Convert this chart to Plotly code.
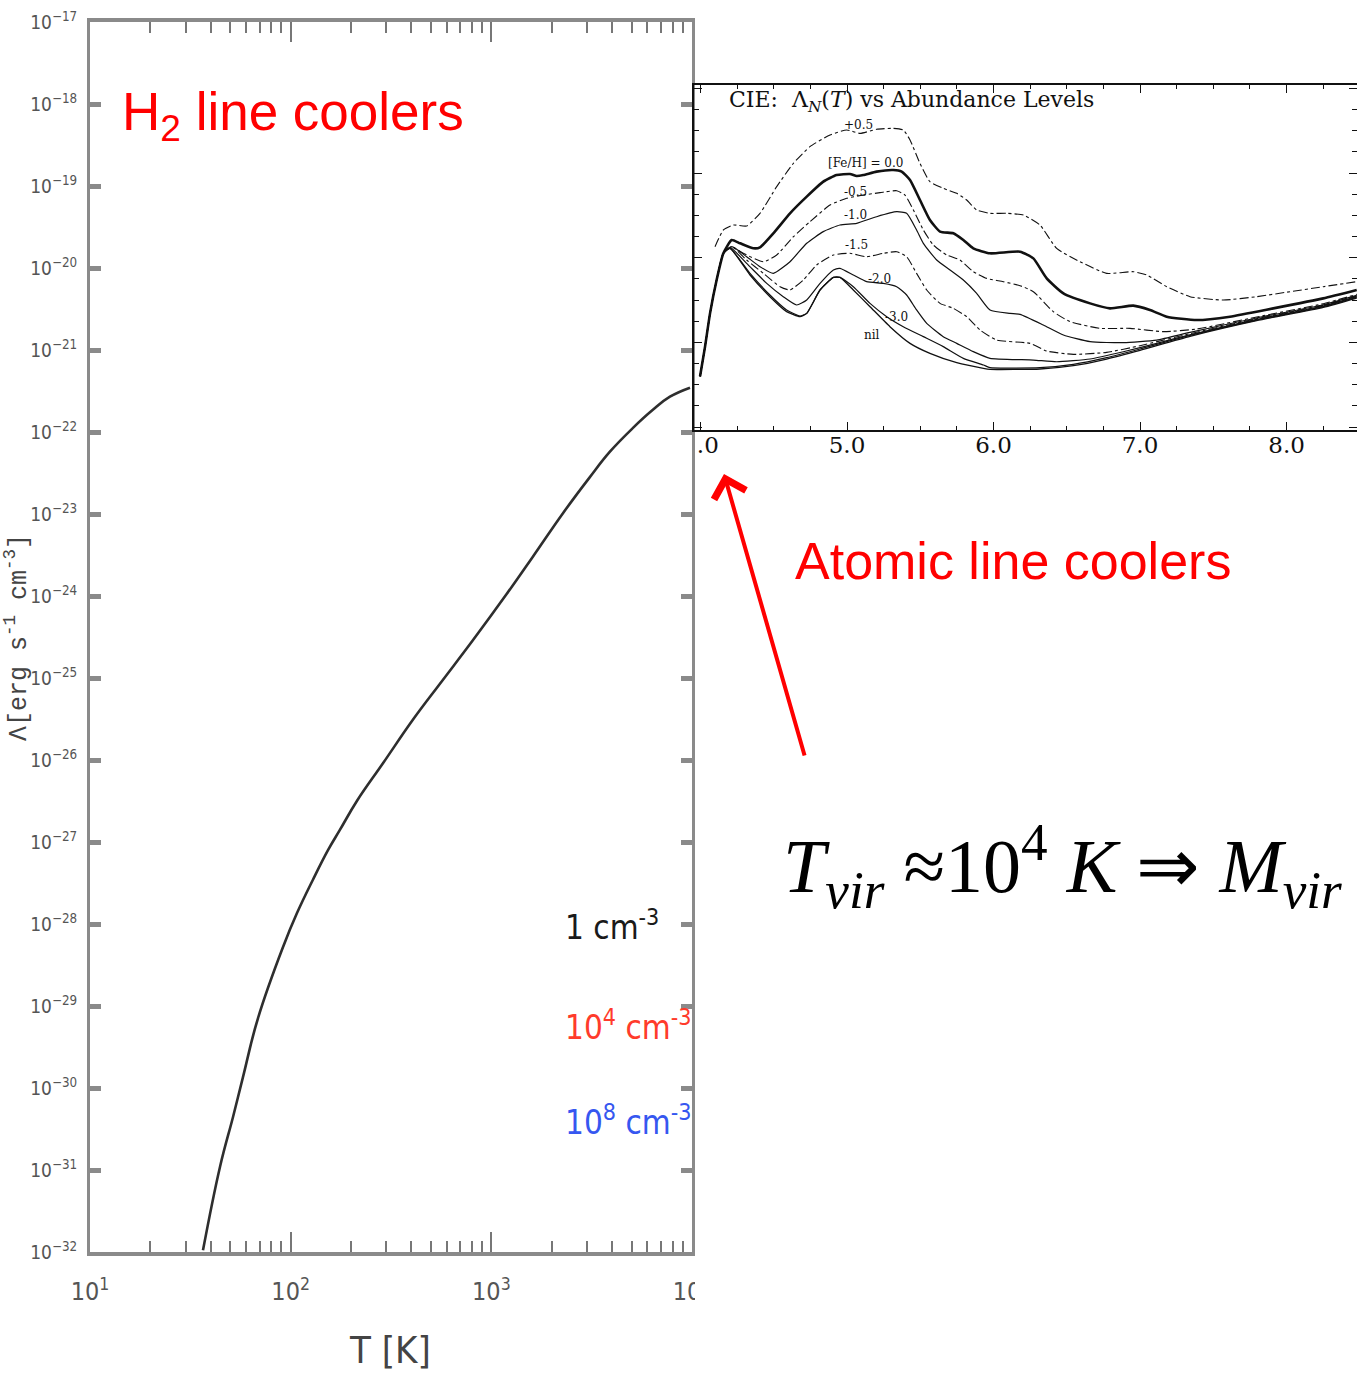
import plotly.graph_objects as go

# ---------------- main panel: H2 cooling function ----------------
h2_logT = [1.563, 1.648, 1.713, 1.762, 1.837, 1.962, 2.031, 2.111, 2.186, 2.246, 2.330,
           2.460, 2.609, 2.744, 2.908, 3.078, 3.207, 3.357, 3.491, 3.591, 3.706, 3.805, 3.890, 3.990]
h2_logL = [-31.98, -30.96, -30.35, -29.87, -29.15, -28.28, -27.87, -27.46, -27.10, -26.85, -26.50,
           -26.04, -25.51, -25.07, -24.54, -23.97, -23.52, -22.99, -22.55, -22.24, -21.95, -21.73, -21.57, -21.46]

main_x_exps = [1, 2, 3, 4]
main_y_exps = list(range(-32, -16))

# ---------------- inset: CIE cooling vs abundance ----------------
rise_T = [3.997, 4.031, 4.065, 4.110, 4.156]
rise_L = [-23.40, -23.05, -22.657, -22.263, -21.948]

p05_T = [4.099, 4.156, 4.224, 4.315, 4.406, 4.520, 4.634, 4.747, 4.884, 4.998, 5.089, 5.202, 5.316, 5.384,
         5.430, 5.498, 5.566, 5.657, 5.749, 5.817, 5.885, 5.976, 6.090, 6.204, 6.317, 6.431, 6.590, 6.772,
         6.954, 7.045, 7.182, 7.341, 7.569, 7.796, 8.024, 8.251, 8.479]
p05_L = [-21.870, -21.673, -21.614, -21.626, -21.476, -21.161, -20.886, -20.689, -20.551, -20.492, -20.532,
         -20.484, -20.473, -20.492, -20.610, -20.886, -21.102, -21.181, -21.240, -21.319, -21.437, -21.476,
         -21.476, -21.496, -21.614, -21.890, -22.047, -22.185, -22.165, -22.204, -22.342, -22.460, -22.500,
         -22.460, -22.401, -22.342, -22.283]

z00_T = rise_T + [4.213, 4.270, 4.361, 4.406, 4.497, 4.611, 4.725, 4.838, 4.929, 5.020, 5.066, 5.111, 5.202,
                  5.316, 5.373, 5.430, 5.498, 5.566, 5.635, 5.726, 5.794, 5.862, 5.976, 6.181, 6.272, 6.363,
                  6.477, 6.659, 6.795, 6.954, 7.068, 7.182, 7.387, 7.614, 7.910, 8.251, 8.479]
z00_L = rise_L + [-21.791, -21.830, -21.889, -21.878, -21.712, -21.476, -21.279, -21.102, -21.024, -21.012,
                  -21.035, -21.024, -20.984, -20.965, -20.984, -21.083, -21.319, -21.555, -21.692, -21.712,
                  -21.791, -21.889, -21.948, -21.929, -22.008, -22.244, -22.421, -22.539, -22.598, -22.566,
                  -22.617, -22.696, -22.736, -22.696, -22.598, -22.480, -22.381]

m05_T = rise_T + [4.213, 4.292, 4.429, 4.520, 4.634, 4.747, 4.884, 4.998, 5.111, 5.225, 5.339, 5.396, 5.453,
                  5.521, 5.589, 5.680, 5.771, 5.862, 5.953, 6.067, 6.181, 6.272, 6.408, 6.522, 6.727, 6.932,
                  7.159, 7.387, 7.796, 8.251, 8.479]
m05_L = rise_L + [-21.870, -21.948, -22.047, -21.968, -21.752, -21.575, -21.378, -21.299, -21.260, -21.232,
                  -21.209, -21.260, -21.437, -21.673, -21.850, -21.968, -22.027, -22.165, -22.244, -22.283,
                  -22.330, -22.401, -22.637, -22.755, -22.834, -22.834, -22.873, -22.842, -22.700, -22.543,
                  -22.433]

m10_T = rise_T + [4.213, 4.315, 4.406, 4.497, 4.611, 4.725, 4.838, 4.952, 5.066, 5.202, 5.339, 5.407, 5.475,
                  5.521, 5.612, 5.703, 5.794, 5.885, 5.976, 6.113, 6.181, 6.340, 6.477, 6.659, 6.886, 7.114,
                  7.341, 7.796, 8.251, 8.479]
m10_L = rise_L + [-21.870, -21.988, -22.106, -22.185, -22.047, -21.830, -21.692, -21.614, -21.594, -21.516,
                  -21.457, -21.476, -21.673, -21.830, -22.027, -22.145, -22.263, -22.421, -22.617, -22.657,
                  -22.669, -22.795, -22.913, -22.991, -23.003, -22.972, -22.881, -22.712, -22.555, -22.444]

m15_T = rise_T + [4.213, 4.315, 4.429, 4.543, 4.611, 4.702, 4.793, 4.907, 5.020, 5.134, 5.248, 5.339, 5.407,
                  5.475, 5.544, 5.635, 5.726, 5.817, 5.908, 6.021, 6.249, 6.363, 6.545, 6.772, 7.000, 7.341,
                  7.796, 8.251, 8.479]
m15_L = rise_L + [-21.870, -22.027, -22.185, -22.342, -22.381, -22.263, -22.086, -21.968, -21.948, -21.988,
                  -21.948, -21.929, -21.988, -22.185, -22.381, -22.539, -22.598, -22.696, -22.854, -22.972,
                  -23.011, -23.102, -23.141, -23.117, -23.039, -22.897, -22.720, -22.562, -22.452]

m20_T = rise_T + [4.201, 4.315, 4.452, 4.565, 4.656, 4.725, 4.816, 4.907, 4.952, 5.043, 5.134, 5.248, 5.339,
                  5.407, 5.475, 5.544, 5.657, 5.749, 5.862, 5.976, 6.272, 6.431, 6.659, 6.886, 7.114, 7.341,
                  7.796, 8.251, 8.479]
m20_L = rise_L + [-21.878, -22.067, -22.303, -22.460, -22.558, -22.499, -22.303, -22.145, -22.126, -22.204,
                  -22.283, -22.303, -22.342, -22.440, -22.617, -22.775, -22.932, -23.011, -23.109, -23.188,
                  -23.208, -23.228, -23.196, -23.110, -23.011, -22.909, -22.728, -22.570, -22.460]

m30_T = rise_T + [4.201, 4.338, 4.474, 4.588, 4.679, 4.725, 4.816, 4.907, 4.952, 5.043, 5.157, 5.271, 5.384,
                  5.521, 5.657, 5.794, 5.931, 5.976, 6.317, 6.545, 6.772, 7.000, 7.341, 7.796, 8.251, 8.479]
m30_L = rise_L + [-21.889, -22.185, -22.440, -22.617, -22.688, -22.657, -22.381, -22.232, -22.232, -22.342,
                  -22.539, -22.696, -22.814, -22.932, -23.050, -23.188, -23.267, -23.298, -23.298, -23.259,
                  -23.180, -23.078, -22.917, -22.736, -22.578, -22.468]

nil_T = rise_T + [4.201, 4.338, 4.474, 4.588, 4.679, 4.725, 4.816, 4.907, 4.952, 5.043, 5.157, 5.293, 5.430,
                  5.566, 5.749, 5.931, 5.976, 6.317, 6.545, 6.772, 7.000, 7.341, 7.796, 8.251, 8.479]
nil_L = rise_L + [-21.889, -22.204, -22.460, -22.637, -22.696, -22.657, -22.381, -22.232, -22.232, -22.381,
                  -22.578, -22.814, -23.011, -23.129, -23.239, -23.306, -23.318, -23.314, -23.275, -23.196,
                  -23.094, -22.928, -22.743, -22.586, -22.476]

inset_labels = ["+0.5", "[Fe/H] = 0.0", "-0.5", "-1.0", "-1.5", "-2.0", "-3.0", "nil"]
inset_label_T = [5.075, 5.123, 5.055, 5.055, 5.068, 5.225, 5.341, 5.171]
inset_label_L = [-20.433, -20.882, -21.224, -21.496, -21.850, -22.251, -22.700, -22.913]
inset_x_ticks = [4, 5, 6, 7, 8]

W, H = 1357, 1373
def px(x): return x / W
def py(y): return 1 - y / H

fig = go.Figure()

fig.add_trace(go.Scatter(
    x=[10 ** v for v in h2_logT], y=[10 ** v for v in h2_logL], mode="lines",
    line=dict(color="#2e2e2e", width=2.6, shape="spline", smoothing=1.2),
    xaxis="x", yaxis="y", showlegend=False, hoverinfo="skip"))

inset_curves = [
    (p05_T, p05_L, 1.1, "dashdot"),
    (z00_T, z00_L, 2.6, "solid"),
    (m05_T, m05_L, 1.1, "dashdot"),
    (m10_T, m10_L, 1.2, "solid"),
    (m15_T, m15_L, 1.1, "dashdot"),
    (m20_T, m20_L, 1.2, "solid"),
    (m30_T, m30_L, 1.2, "solid"),
    (nil_T, nil_L, 1.3, "solid"),
]
for tx, ly, w, d in inset_curves:
    fig.add_trace(go.Scatter(
        x=tx, y=ly, mode="lines",
        line=dict(color="#111111", width=w, dash=d, shape="spline", smoothing=0.5),
        xaxis="x2", yaxis="y2", showlegend=False, hoverinfo="skip"))

narrow = "Liberation Sans Narrow, Arial Narrow, DejaVu Sans Condensed, Roboto, sans-serif"
serif = "DejaVu Serif, Liberation Serif, serif"

minor_x = [m * 10 ** e for e in (1, 2, 3) for m in range(2, 10)]

fig.update_layout(
    width=W, height=H, margin=dict(l=0, r=0, t=0, b=0, pad=0, autoexpand=False),
    paper_bgcolor="white", plot_bgcolor="white",
    xaxis=dict(
        type="log", range=[1, 4], domain=[px(90), px(692)], anchor="y", automargin=False,
        tickvals=[10 ** e for e in main_x_exps],
        ticktext=[f"10<sup>{e}</sup>" for e in main_x_exps],
        ticks="inside", ticklen=20, tickwidth=2, tickcolor="#777",
        minor=dict(tickvals=minor_x, ticks="inside", ticklen=11, tickwidth=2, tickcolor="#777"),
        showline=True, linewidth=4, linecolor="#8a8a8a", mirror="ticks",
        showgrid=False, zeroline=False, ticklabelstandoff=14,
        tickfont=dict(family=narrow, size=25, color="#555"),
    ),
    yaxis=dict(
        type="log", range=[-32, -17], domain=[py(1252), py(22)], anchor="x", automargin=False,
        tickvals=[10.0 ** e for e in main_y_exps],
        ticktext=[f"10<sup>\u2212{-e}</sup>" for e in main_y_exps],
        ticks="inside", ticklen=11, tickwidth=5, tickcolor="#8a8a8a",
        showline=True, linewidth=3, linecolor="#8a8a8a", mirror="ticks",
        showgrid=False, zeroline=False, ticklabelstandoff=6,
        tickfont=dict(family=narrow, size=19, color="#555"),
    ),
    xaxis2=dict(
        range=[3.9556, 8.481], domain=[px(694), 1.0], anchor="y2", automargin=False,
        tickvals=inset_x_ticks,
        ticktext=["<span style='color:rgba(0,0,0,0)'>4</span>.0", "5.0", "6.0", "7.0", "8.0"],
        ticks="inside", ticklen=8, tickwidth=1.3, tickcolor="#111",
        minor=dict(dtick=0.25, ticks="inside", ticklen=4, tickwidth=1, tickcolor="#111"),
        showline=True, linewidth=1.6, linecolor="#111", mirror="ticks",
        showgrid=False, zeroline=False, ticklabelstandoff=-6,
        tickfont=dict(family=serif, size=23, color="#111"),
    ),
    yaxis2=dict(
        range=[-24.034, -19.961], domain=[py(430), py(85)], anchor="x2", automargin=False,
        tickvals=[-24, -23, -22, -21, -20], showticklabels=False,
        ticks="inside", ticklen=8, tickwidth=1.3, tickcolor="#111",
        minor=dict(dtick=0.25, ticks="inside", ticklen=5, tickwidth=1, tickcolor="#111"),
        showline=True, linewidth=1.6, linecolor="#111", mirror="ticks",
        showgrid=False, zeroline=False,
    ),
    shapes=[
        dict(type="rect", xref="paper", yref="paper", x0=px(695), x1=px(745),
             y0=py(1330), y1=py(1262), fillcolor="white", line=dict(width=0), layer="above"),
    ],
)

ann = []
# axis titles
ann.append(dict(text="T [K]", xref="paper", yref="paper", x=px(390), y=py(1350),
                xanchor="center", yanchor="middle", showarrow=False,
                font=dict(family=narrow, size=38, color="#444")))
ann.append(dict(text="\u039b[erg s<sup>-1</sup> cm<sup>-3</sup>]", xref="paper", yref="paper",
                x=px(17), y=py(638), xanchor="center", yanchor="middle", textangle=-90, showarrow=False,
                font=dict(family="Liberation Mono, DejaVu Sans Mono, monospace", size=25, color="#444")))
# red labels
ann.append(dict(text="H<sub>2</sub> line coolers", xref="paper", yref="paper", x=px(120), y=py(116),
                xanchor="left", yanchor="middle", showarrow=False,
                font=dict(family="Liberation Sans, Arial, sans-serif", size=53, color="#ff0000")))
ann.append(dict(text="Atomic line coolers", xref="paper", yref="paper", x=px(793), y=py(561),
                xanchor="left", yanchor="middle", showarrow=False,
                font=dict(family="Liberation Sans, Arial, sans-serif", size=52, color="#ff0000")))
ann.append(dict(text="", xref="paper", yref="paper", x=px(724), y=py(474), ax=81, ay=283,
                showarrow=True, arrowhead=4, arrowsize=1.6, arrowwidth=4, arrowcolor="#ff0000"))
# formula
ann.append(dict(text="<i>T</i><sub><i>vir</i></sub> \u224810<sup>4</sup> <i>K</i> \u21d2 <i>M</i><sub><i>vir</i></sub>",
                xref="paper", yref="paper", x=px(1062), y=py(866), xanchor="center", yanchor="middle",
                showarrow=False,
                font=dict(family="Liberation Serif, Times New Roman, serif", size=76, color="#000")))
# density labels
dens = [("1 cm<sup>-3</sup>", "#1a1a1a", 925), ("10<sup>4</sup> cm<sup>-3</sup>", "#ff3b2b", 1025),
        ("10<sup>8</sup> cm<sup>-3</sup>", "#3657f0", 1120)]
for t, c, yy in dens:
    ann.append(dict(text=t, xref="paper", yref="paper", x=px(563), y=py(yy), xanchor="left",
                    yanchor="middle", showarrow=False, font=dict(family=narrow, size=33, color=c)))
# inset title and curve labels
ann.append(dict(text="CIE:  \u039b<sub><i>N</i></sub>(<i>T</i>) vs Abundance Levels", xref="x2", yref="y2",
                x=4.181, y=-20.15, xanchor="left", yanchor="middle", showarrow=False,
                font=dict(family=serif, size=22, color="#111")))
for t, xv, yv in zip(inset_labels, inset_label_T, inset_label_L):
    ann.append(dict(text=t, xref="x2", yref="y2", x=xv, y=yv, xanchor="center", yanchor="middle",
                    showarrow=False, font=dict(family=serif, size=12, color="#111")))

fig.update_layout(annotations=ann)
fig.write_html("out.html")
